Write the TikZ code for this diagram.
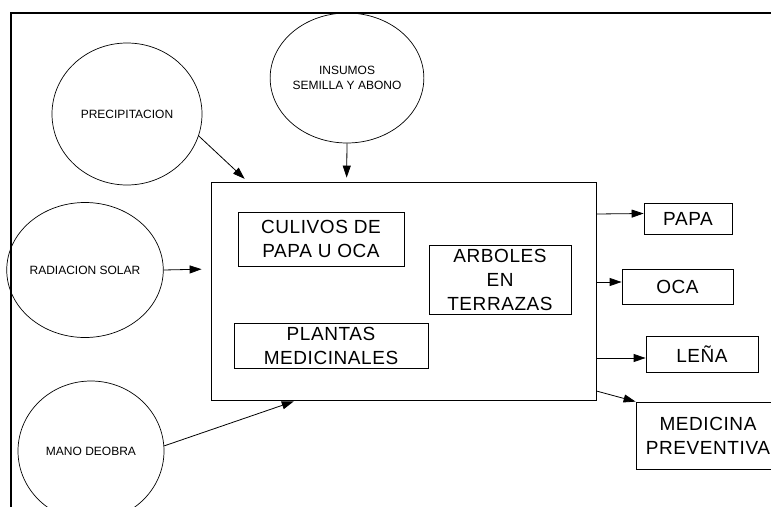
\documentclass[tikz,border=0pt]{standalone}
\usepackage{fontspec}
\setmainfont{Liberation Sans}
\usetikzlibrary{arrows.meta, shapes.geometric}

\begin{document}
\begin{tikzpicture}[
      x=1pt, y=-1pt,
      >={Triangle[length=12pt, width=8pt]},
      fuente/.style={draw, ellipse, line width=0.7pt, inner sep=0pt, align=center, font=\fontsize{12}{15}\selectfont},
      caja/.style={draw, line width=0.8pt, inner sep=0pt, align=center, font=\fontsize{19}{24}\selectfont\addfontfeatures{LetterSpace=3}},
      flujo/.style={->, line width=0.8pt},
      marco/.style={line width=2pt}
    ]
    \clip (0,0) rectangle (771,506);

    \draw[marco] (11,520) -- (11,13) -- (790,13);

    \node[fuente, minimum width=150pt, minimum height=142pt] (precip) at (127,114) {PRECIPITACION};
    \node[fuente, minimum width=145pt, minimum height=130pt] (insumos) at (347,78) {INSUMOS\\SEMILLA Y ABONO};
    \node[fuente, minimum width=144pt, minimum height=135pt] (radiacion) at (85,270) {RADIACION SOLAR};
    \node[fuente, minimum width=146pt, minimum height=140pt] (mano) at (91,451) {MANO DEOBRA};

    \node[caja, minimum width=385pt, minimum height=218pt] (sistema) at (403.5,291) {};
    \node[caja, minimum width=166pt, minimum height=54pt] (culivos) at (321,239) {CULIVOS DE\\PAPA U OCA};
    \node[caja, minimum width=194pt, minimum height=45pt] (plantas) at (331,345.5) {PLANTAS\\MEDICINALES};
    \node[caja, minimum width=142pt, minimum height=69pt] (arboles) at (500,279.5) {ARBOLES\\EN\\TERRAZAS};

    \node[caja, minimum width=88pt, minimum height=31pt] (papa) at (688,218.5) {PAPA};
    \node[caja, minimum width=111pt, minimum height=35pt] (oca) at (677.5,286.5) {OCA};
    \node[caja, minimum width=112pt, minimum height=36pt] (lena) at (702,354) {LEÑA};
    \node[caja, minimum width=144pt, minimum height=67pt] (medicina) at (708,435.5) {MEDICINA\\PREVENTIVA};

    % entradas
    \draw[flujo, shorten >=4pt] (precip.-17) -- ([xshift=37pt]sistema.north west);
    \draw[flujo, shorten >=4pt] (insumos.south) -- ([xshift=136pt]sistema.north west);
    \draw[flujo, shorten >=9pt] (radiacion.east) -- ([yshift=22pt]sistema.west);
    \draw[flujo, shorten >=3pt] (mano.4) -- ([xshift=86pt]sistema.south west);

    % salidas
    \draw[flujo] ([yshift=77pt]sistema.east) -- ([yshift=5pt]papa.west);
    \draw[flujo] ([yshift=9pt]sistema.east) -- ([yshift=4.5pt]oca.west);
    \draw[flujo] ([yshift=-67pt]sistema.east) -- ([yshift=-4pt]lena.west);
    \draw[flujo] ([yshift=-100pt]sistema.east) -- (medicina.north west);

  \end{tikzpicture}
\end{document}
